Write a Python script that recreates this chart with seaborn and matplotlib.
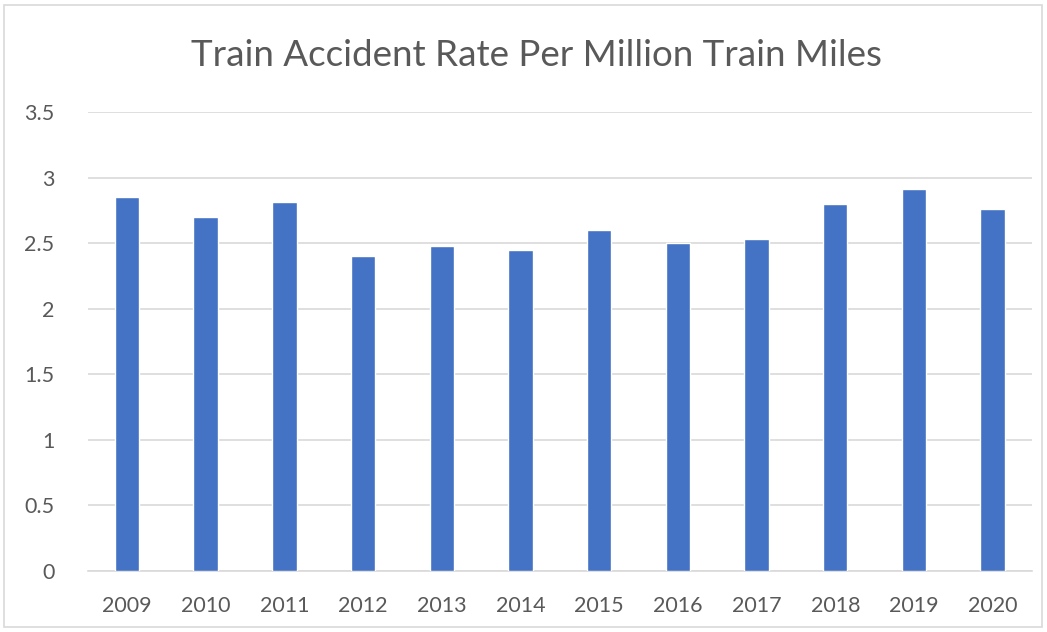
import matplotlib
matplotlib.use("Agg")
import matplotlib.pyplot as plt
import seaborn as sns
import pandas as pd
from matplotlib.patches import Rectangle

years = ["2009", "2010", "2011", "2012", "2013", "2014", "2015", "2016", "2017", "2018", "2019", "2020"]
rates = [2.85, 2.70, 2.81, 2.40, 2.48, 2.45, 2.60, 2.50, 2.53, 2.80, 2.91, 2.76]
yticks = [0, 0.5, 1, 1.5, 2, 2.5, 3, 3.5]
ytick_labels = ["0", "0.5", "1", "1.5", "2", "2.5", "3", "3.5"]
title = "Train Accident Rate Per Million Train Miles"

sns.set_style("white")
plt.rcParams['font.family'] = ['Lato', 'DejaVu Sans']

df = pd.DataFrame({"year": years, "rate": rates})

fig = plt.figure(figsize=(10.47, 6.32), dpi=100)
ax = fig.add_axes([0.0837, 1 - 571/632, 0.9857 - 0.0837, (571 - 112)/632])

sns.barplot(data=df, x="year", y="rate", color="#4472C4", width=0.31, ax=ax,
            saturation=1, zorder=3)

ax.set_ylim(0, 3.5)
ax.set_xlim(-0.5, len(years) - 0.5)
ax.set_yticks(yticks)
ax.set_yticklabels(ytick_labels)
ax.grid(axis="y", color="#D9D9D9", linewidth=1.2, zorder=0)
ax.set_axisbelow(True)
for s in ["top", "right", "left"]:
    ax.spines[s].set_visible(False)
ax.spines["bottom"].set_color("#D9D9D9")
ax.spines["bottom"].set_linewidth(1.2)
ax.tick_params(axis="both", length=0, colors="#595959", labelsize=15.5)
ax.tick_params(axis="y", pad=24)
ax.tick_params(axis="x", pad=18)
ax.set_xlabel("")
ax.set_ylabel("")

fig.text(0.512, 1 - 55/632, title, ha="center", va="center", fontsize=26.5,
         color="#595959", fontweight="normal")

fig.patches.append(Rectangle((4/1047, 1 - 627/632), 1038/1047, 622/632,
                             transform=fig.transFigure, fill=False,
                             edgecolor="#D9D9D9", linewidth=1.2))

fig.savefig("out.png", dpi=100)
